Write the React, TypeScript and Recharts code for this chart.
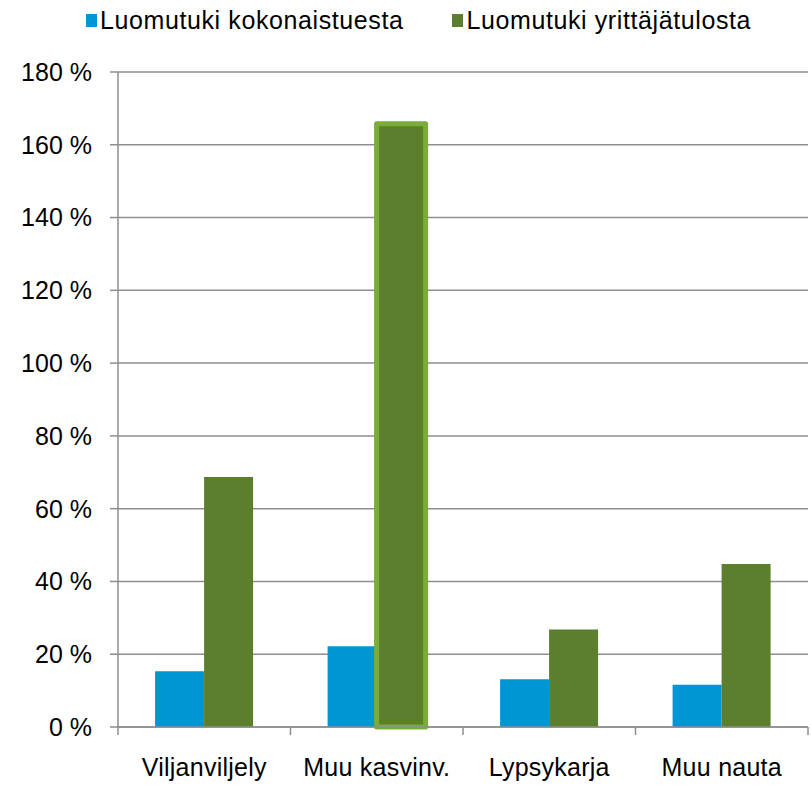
import { BarChart, Bar, XAxis, YAxis, CartesianGrid, Cell } from 'recharts'

const categories = ['Viljanviljely', 'Muu kasvinv.', 'Lypsykarja', 'Muu nauta']
const kokonaistuesta = [15.3, 22.2, 13.1, 11.6]
const yrittajatulosta = [68.7, 165.8, 26.8, 44.8]
const yTicks = [0, 20, 40, 60, 80, 100, 120, 140, 160, 180]

const series = [
  { key: 'kokonaistuesta', name: 'Luomutuki kokonaistuesta', color: '#0096D6' },
  { key: 'yrittajatulosta', name: 'Luomutuki yrittäjätulosta', color: '#5B7F2C' },
]

const data = categories.map((c, i) => ({
  name: c,
  kokonaistuesta: kokonaistuesta[i],
  yrittajatulosta: yrittajatulosta[i],
}))

const W = 811
const H = 785
const MARGIN = { top: 72, right: 3, bottom: 0, left: 0 }
const Y_W = 118
const TICK_SIZE = 8
const TICK_MARGIN = 23
const GRID = '#8E8E8E'
const FONT = 'Arial, "Liberation Sans", sans-serif'

const CategoryTick = (props: any) => {
  const { x, y, payload, index, visibleTicksCount } = props
  const fallback = (W - MARGIN.left - MARGIN.right - Y_W) / categories.length / 2
  const half = payload?.offset ? payload.offset : fallback
  const axisY = y - TICK_SIZE - TICK_MARGIN
  return (
    <g>
      <line x1={x - half} x2={x - half} y1={axisY} y2={axisY + TICK_SIZE} stroke={GRID} strokeWidth={1.5} />
      {index === visibleTicksCount - 1 && (
        <line x1={x + half} x2={x + half} y1={axisY} y2={axisY + TICK_SIZE} stroke={GRID} strokeWidth={1.5} />
      )}
      <text x={x} y={y} dy="0.71em" textAnchor="middle" fontSize={25} fill="#000" style={{ letterSpacing: '0.25px' }}>
        {payload.value}
      </text>
    </g>
  )
}

export default function App() {
  return (
    <div style={{ position: 'absolute', left: 0, top: 0, width: W, height: H, background: '#fff', fontFamily: FONT }}>
      {/* legend */}
      <div
        style={{
          position: 'absolute', top: 5, left: 86, display: 'flex', gap: 49,
          fontSize: 25, lineHeight: '30px', letterSpacing: '0.6px', color: '#000', whiteSpace: 'nowrap',
        }}
      >
        {series.map((s) => (
          <div key={s.key} style={{ display: 'flex', alignItems: 'center' }}>
            <span style={{ display: 'inline-block', width: 11, height: 13, background: s.color, marginRight: 3 }} />
            <span>{s.name}</span>
          </div>
        ))}
      </div>

      <BarChart
        width={W}
        height={H}
        data={data}
        margin={MARGIN}
        barCategoryGap="21.5%"
        barGap={0}
        style={{ fontFamily: FONT }}
      >
        <CartesianGrid vertical={false} stroke={GRID} strokeWidth={1.5} />
        <XAxis
          dataKey="name"
          height={58}
          axisLine={{ stroke: GRID, strokeWidth: 1.5 }}
          tickLine={false}
          tickSize={TICK_SIZE}
          tickMargin={TICK_MARGIN}
          tick={<CategoryTick />}
          interval={0}
        />
        <YAxis
          width={Y_W}
          domain={[0, 180]}
          ticks={yTicks}
          interval={0}
          tickFormatter={(v) => `${v} %`}
          axisLine={{ stroke: GRID, strokeWidth: 1.5 }}
          tickLine={{ stroke: GRID, strokeWidth: 1.5 }}
          tickSize={TICK_SIZE}
          tickMargin={18}
          tick={{ fontSize: 25, fill: '#000' }}
        />
        <Bar dataKey="kokonaistuesta" name={series[0].name} fill={series[0].color} isAnimationActive={false} />
        <Bar dataKey="yrittajatulosta" name={series[1].name} fill={series[1].color} isAnimationActive={false}>
          {data.map((d, i) => (
            <Cell
              key={d.name}
              stroke={i === 1 ? '#7AAC3A' : 'none'}
              strokeWidth={i === 1 ? 5 : 0}
              strokeLinejoin="round"
            />
          ))}
        </Bar>
      </BarChart>
    </div>
  )
}
